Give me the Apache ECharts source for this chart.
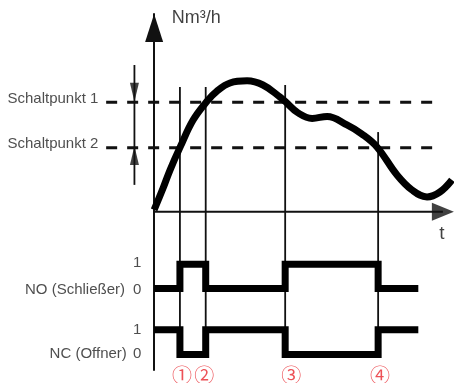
<!DOCTYPE html>
<html>
<head>
<meta charset="utf-8">
<title>Schaltpunkte</title>
<script src="https://cdn.jsdelivr.net/npm/echarts@6/dist/echarts.min.js"></script>
<style>
  html, body { margin: 0; padding: 0; background: #fff; }
  #main { width: 454px; height: 383px; }
</style>
</head>
<body>
<div id="main"></div>
<script type="text/javascript">
  // Durchfluss-Kurve (t, Nm3/h)
  var flowT = [0, 3.0, 5.3, 8.7, 13.0, 17.7, 21.0, 25.3, 31.0, 36.3, 42.0, 43.7, 48.0, 52.7, 57.7, 64.3, 69.3, 74.3, 81.0, 86.0, 91.0, 95.3, 99.3];
  var flowV = [1, 12.0, 21.1, 32.8, 46.4, 56.0, 61.1, 65.1, 66.2, 64.1, 58.0, 55.8, 50.0, 47.2, 48.2, 43.9, 39.3, 32.8, 18.6, 11.0, 7.5, 10.0, 16.1];

  // Schaltpunkte
  var switchNames = ['Schaltpunkt 1', 'Schaltpunkt 2'];
  var switchLevels = [55.4, 32.4];
  var switchRange = [-16, 94.3];

  // Schaltzeitpunkte 1..4
  var eventTimes = [8.6, 17.2, 43.7, 74.7];
  var eventTops = [63.1, 63.1, 64.1, 40.3];
  var eventMarks = ['①', '②', '③', '④'];
  var eventMarkT = [9.3, 16.7, 45.7, 75.3];

  // Schaltzustaende
  var signalEnd = 88.1;
  var noStates = [0, 1, 0, 1, 0];
  var ncStates = [1, 0, 1, 0, 1];
  var noLevels = [-38.8, -26.5];   // Lage fuer 0 / 1
  var ncLevels = [-72.2, -59.6];

  var tAxisEnd = 96.3;   // Pfeilspitze t-Achse

  var myChart = echarts.init(document.getElementById('main'));

  var txtFont = 'Liberation Sans';

  function stepData(states, levels) {
    var d = [[0, levels[states[0]]]];
    for (var i = 1; i < states.length; i++) {
      d.push([eventTimes[i - 1], levels[states[i]]]);
    }
    d.push([signalEnd, levels[states[states.length - 1]]]);
    return d;
  }

  var series = [];

  // t-Achse
  series.push({
    type: 'line',
    data: [[0, 0], [tAxisEnd, 0]],
    symbol: 'none',
    clip: false,
    lineStyle: { color: '#111', width: 2 }
  });
  series.push({
    type: 'scatter',
    clip: false,
    symbol: 'triangle',
    symbolSize: [18, 22],
    symbolRotate: -90,
    itemStyle: { color: '#111' },
    data: [[tAxisEnd, 0]]
  });

  // gestrichelte Schaltpunkt-Linien
  for (var i = 0; i < switchLevels.length; i++) {
    series.push({
      type: 'line',
      data: [[switchRange[0], switchLevels[i]], [switchRange[1], switchLevels[i]]],
      symbol: 'none',
      clip: false,
      lineStyle: { color: '#111', width: 3, type: [11, 10] }
    });
  }

  // senkrechte Linien an den Schaltzeitpunkten
  for (var i = 0; i < eventTimes.length; i++) {
    series.push({
      type: 'line',
      data: [[eventTimes[i], eventTops[i]], [eventTimes[i], ncLevels[0]]],
      symbol: 'none',
      clip: false,
      lineStyle: { color: '#111', width: 1.8 }
    });
  }

  // Hysterese-Pfeil links
  series.push({
    type: 'line',
    data: [[-6.57, 74.2], [-6.57, 13.6]],
    symbol: 'none',
    clip: false,
    lineStyle: { color: '#111', width: 1.8 }
  });
  series.push({
    type: 'scatter',
    clip: false,
    symbol: 'triangle',
    symbolSize: [9, 19],
    itemStyle: { color: '#111' },
    data: [
      { value: [-6.57, 60.4], symbolRotate: 180 },
      { value: [-6.57, 28.5], symbolRotate: 0 }
    ]
  });

  // Durchfluss
  series.push({
    type: 'line',
    data: flowT.map(function (t, k) { return [t, flowV[k]]; }),
    smooth: 0.4,
    symbol: 'none',
    clip: false,
    lineStyle: { color: '#000', width: 7 }
  });

  // NO / NC
  series.push({
    type: 'line',
    data: stepData(noStates, noLevels),
    step: 'end',
    symbol: 'none',
    clip: false,
    lineStyle: { color: '#000', width: 7, join: 'miter', cap: 'butt' }
  });
  series.push({
    type: 'line',
    data: stepData(ncStates, ncLevels),
    step: 'end',
    symbol: 'none',
    clip: false,
    lineStyle: { color: '#000', width: 7, join: 'miter', cap: 'butt' }
  });

  // Texte
  function textSeries(items, pos, font, color) {
    return {
      type: 'scatter',
      clip: false,
      symbol: 'circle',
      symbolSize: 0,
      itemStyle: { color: 'transparent' },
      silent: true,
      label: {
        show: true,
        position: pos,
        distance: 0,
        formatter: '{b}',
        color: color,
        fontFamily: font.family || txtFont,
        fontSize: font.size
      },
      data: items
    };
  }

  series.push(textSeries(switchNames.map(function (n, k) {
    return { name: n, value: [-18.6, [57.1, 34.4][k]] };
  }), 'left', { size: 15 }, '#222'));

  series.push(textSeries([
    { name: '1', value: [-4.3, -26.0] },
    { name: '0', value: [-4.3, -39.5] },
    { name: 'NO (Schließer)', value: [-9.7, -39.5] },
    { name: '1', value: [-4.3, -59.6] },
    { name: '0', value: [-4.3, -71.8] },
    { name: 'NC (Offner)', value: [-9.1, -71.8] }
  ], 'left', { size: 15 }, '#222'));

  series.push(textSeries([
    { name: 'Nm³/h', value: [5.9, 97.8] }
  ], 'right', { size: 18 }, '#111'));

  series.push(textSeries([
    { name: 't', value: [96, -11.2] }
  ], 'inside', { size: 19 }, '#111'));

  series.push(textSeries(eventMarks.map(function (m, k) {
    return { name: m, value: [eventMarkT[k], -82.6] };
  }), 'inside', { size: 20, family: 'Noto Sans CJK SC' }, '#e8262d'));

  var option = {
    animation: false,
    backgroundColor: '#fff',
    grid: { left: 0, right: 0, top: 14, bottom: 13, containLabel: false, outerBoundsMode: 'none' },
    xAxis: {
      type: 'value',
      min: -51.4,
      max: 100,
      axisLine: { show: false },
      axisTick: { show: false },
      axisLabel: { show: false },
      splitLine: { show: false }
    },
    yAxis: {
      type: 'value',
      min: -80,
      max: 100,
      axisLine: {
        show: true,
        onZero: true,
        symbol: ['none', 'triangle'],
        symbolSize: [18, 28],
        symbolOffset: [0, -14],
        lineStyle: { color: '#111', width: 2 }
      },
      axisTick: { show: false },
      axisLabel: { show: false },
      splitLine: { show: false }
    },
    series: series
  };

  myChart.setOption(option);
</script>
</body>
</html>
